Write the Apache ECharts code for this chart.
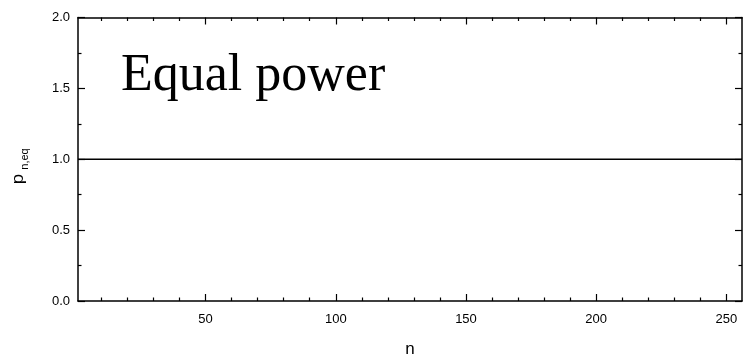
<!DOCTYPE html>
<html>
<head>
<meta charset="utf-8">
<script src="https://cdn.jsdelivr.net/npm/echarts@6/dist/echarts.min.js"></script>
<style>
html,body{margin:0;padding:0;background:#fff;}
#chart{width:743px;height:362px;}
</style>
</head>
<body>
<div id="chart"></div>
<script>
// Data
var nValues = [1, 256];
var pValues = [1.0, 1.0];
var xMajorTicks = [50, 100, 150, 200, 250];
var xMinorTicks = [10, 20, 30, 40, 60, 70, 80, 90, 110, 120, 130, 140, 160, 170, 180, 190, 210, 220, 230, 240];
var yTickLabels = ['0.0', '0.5', '1.0', '1.5', '2.0'];
var titleText = 'Equal power';
var xName = 'n';
var yNameMain = 'p';
var yNameSub = 'n,eq';

var chart = echarts.init(document.getElementById('chart'), null, {renderer: 'canvas'});
var axisColor = '#000';
var lblFont = 'Liberation Sans';

function xAxisDef(position, ticks, len, showLine, showLabel) {
  return {
    type: 'value', position: position, min: 1, max: 256, gridIndex: 0,
    axisLine: {show: showLine, onZero: false, lineStyle: {color: axisColor, width: 1.5}},
    axisTick: {show: true, inside: true, length: len, customValues: ticks, lineStyle: {color: axisColor, width: 1.2}},
    axisLabel: {show: showLabel, customValues: showLabel ? ticks : undefined, color: '#000', fontSize: 13, fontFamily: lblFont, margin: 12},
    splitLine: {show: false}
  };
}

var xAxes = [
  Object.assign(xAxisDef('bottom', xMajorTicks, 7, true, true), {
    name: xName, nameLocation: 'middle', nameGap: 40,
    nameTextStyle: {fontSize: 17, fontFamily: lblFont, color: '#000'}
  }),
  xAxisDef('bottom', xMinorTicks, 3.5, false, false),
  xAxisDef('top', xMajorTicks, 7, true, false),
  xAxisDef('top', xMinorTicks, 3.5, false, false)
];

function yAxisDef(position, showLabel) {
  return {
    type: 'value', position: position, min: 0, max: 2, interval: 0.5,
    axisLine: {show: true, onZero: false, lineStyle: {color: axisColor, width: 1.5}},
    axisTick: {show: true, inside: true, length: 7, lineStyle: {color: axisColor, width: 1.2}},
    minorTick: {show: true, splitNumber: 2, length: 3.5, lineStyle: {color: axisColor, width: 1.2}},
    axisLabel: {show: showLabel, color: '#000', fontSize: 13, fontFamily: lblFont, margin: 8,
      formatter: function (v) { return yTickLabels[Math.round(v / 0.5)]; }},
    splitLine: {show: false}, minorSplitLine: {show: false}
  };
}

var option = {
  animation: false,
  backgroundColor: '#fff',
  grid: {left: 78, right: 1, top: 17.5, bottom: 61, containLabel: false, outerBoundsMode: 'none'},
  xAxis: xAxes,
  yAxis: [yAxisDef('left', true), yAxisDef('right', false)],
  series: [{
    type: 'line', xAxisIndex: 0, yAxisIndex: 0,
    data: nValues.map(function (n, i) { return [n, pValues[i]]; }),
    showSymbol: false, symbol: 'none',
    lineStyle: {color: '#000', width: 1.6}
  }],
  graphic: [
    {type: 'text', x: 121, y: 76, style: {text: titleText, font: '52px "Liberation Serif"', fill: '#000', verticalAlign: 'middle', align: 'left'}},
    {type: 'text', x: 18, y: 179, rotation: Math.PI / 2, scaleX: 1.1, style: {text: yNameMain, font: '17px "Liberation Sans"', fill: '#000', verticalAlign: 'middle', align: 'center'}},
    {type: 'text', x: 25, y: 159, rotation: Math.PI / 2, style: {text: yNameSub, font: '11px "Liberation Sans"', fill: '#000', verticalAlign: 'middle', align: 'center'}}
  ]
};
chart.setOption(option);
</script>
</body>
</html>
